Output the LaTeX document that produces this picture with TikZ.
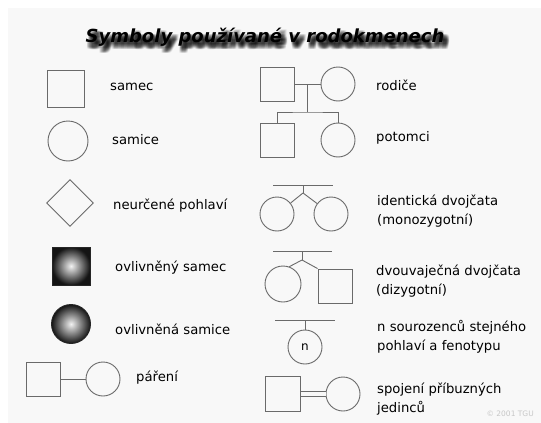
\documentclass[tikz,border=0pt]{standalone}
\usepackage{fontspec}
\setmainfont{DejaVu Sans}
\usetikzlibrary{positioning,shapes.geometric,calc}

\definecolor{paper}{HTML}{F8F8F8}
\definecolor{outline}{HTML}{6A6A6A}

\tikzset{
	sym/.style={draw=outline, line width=0.9pt, inner sep=0pt},
	male/.style={sym, rectangle, minimum size=34pt},
	female/.style={sym, circle, minimum size=34pt},
	unknown/.style={sym, diamond, minimum size=47pt},
	affected/.style={draw=black!85, shading=radial, inner color=black!5, outer color=black!92},
	link/.style={draw=outline, line width=0.9pt},
	txt/.style={anchor=west, inner sep=0pt, align=left, font=\fontsize{13.2}{19.5}\selectfont},
	heading/.style={inner sep=0pt, font=\fontsize{18}{20}\bfseries\itshape\selectfont}
}

\begin{document}
\begin{tikzpicture}[x=1pt, y=-1pt]
	% paper
	\fill[white] (0,0) rectangle (541,423);
	\fill[paper] (8,8) rectangle (541,423);
	\useasboundingbox (0,0) rectangle (541,423);

	% heading with a soft shadow
	\foreach \dx in {1,...,6}
		\foreach \dy in {2,...,7}
			\node[heading, text=black, opacity=0.065] (shadow\dx\dy) at (265+\dx,37+\dy) {Symboly používané v rodokmenech};
	\node[heading] (title) at (265,37) {Symboly používané v rodokmenech};

	% left column
	\node[male, minimum size=37pt] (samec) at (66,89) {};
	\node[txt] (samecT) at (110,87) {samec};

	\node[female, minimum size=40pt] (samice) at (68,141) {};
	\node[txt] (samiceT) at (112,140) {samice};

	\node[unknown] (neurc) at (70,203) {};
	\node[txt] (neurcT) at (113,206) {neurčené pohlaví};

	\node[male, affected, minimum size=38pt] (ovsamec) at (71,266) {};
	\node[txt] (ovsamecT) at (115,268) {ovlivněný samec};

	\node[female, affected, minimum size=39pt] (ovsamice) at (71,324) {};
	\node[txt] (ovsamiceT) at (115,329) {ovlivněná samice};

	\node[male] (pareniM) at (43,379) {};
	\node[female] (pareniF) at (103,379) {};
	\draw[link] (pareniM) -- (pareniF);
	\node[txt] (pareniT) at (136,378) {páření};

	% right column: parents and offspring
	\node[male] (otec) at (277,84) {};
	\node[female] (matka) at (338,84) {};
	\draw[link] (otec) -- (matka);
	\coordinate (mate) at ($(otec.east)!0.5!(matka.west)$);
	\coordinate (sibs) at ($(mate)+(0,28)$);
	\draw[link] (mate) -- (sibs);
	\node[male] (syn) at (277,140) {};
	\node[female] (dcera) at (338,140) {};
	\draw[link] (syn.north) |- (sibs) -| (dcera.north);
	\node[txt] (rodiceT) at (376,85) {rodiče};
	\node[txt] (potomciT) at (376,138) {potomci};

	% identical twins
	\coordinate (mzbar) at (303,185);
	\coordinate (mzbarL) at (273,185);
	\coordinate (mzbarR) at (333,185);
	\coordinate (mzapex) at (303,193);
	\node[female] (mz1) at (277,214) {};
	\node[female] (mz2) at (331,214) {};
	\draw[link] (mzbarL) -- (mzbarR);
	\draw[link] (mzbar) -- (mzapex);
	\draw[link] (mzapex) -- (mz1);
	\draw[link] (mzapex) -- (mz2);
	\node[txt] (mzT) at (377,211) {identická dvojčata\\(monozygotní)};

	% fraternal twins
	\coordinate (dzbar) at (302,251);
	\coordinate (dzbarL) at (273,251);
	\coordinate (dzbarR) at (332,251);
	\coordinate (dzapex) at (302,260);
	\node[female, minimum size=36pt] (dz1) at (283,284) {};
	\node[male] (dz2) at (335,286) {};
	\draw[link] (dzbarL) -- (dzbarR);
	\draw[link] (dzbar) -- (dzapex);
	\draw[link] (dzapex) -- (dz1.70);
	\draw[link] (dzapex) -- (dz2.north west);
	\node[txt] (dzT) at (376,281) {dvouvaječná dvojčata\\(dizygotní)};

	% n siblings
	\coordinate (nbar) at (305,320);
	\coordinate (nbarL) at (275,320);
	\coordinate (nbarR) at (335,320);
	\node[female, font=\fontsize{12}{14}\selectfont] (nsour) at (305,347) {n};
	\draw[link] (nbarL) -- (nbarR);
	\draw[link] (nbar) -- (nsour);
	\node[txt] (nsourT) at (377,337) {n sourozenců stejného\\pohlaví a fenotypu};

	% consanguineous mating
	\node[male, minimum size=35pt] (pribM) at (283,394) {};
	\node[female] (pribF) at (343,394) {};
	\draw[link, double=paper, double distance=4.5pt] (pribM) -- (pribF);
	\node[txt] (pribT) at (377,399) {spojení příbuzných\\jedinců};

	\node[anchor=east, inner sep=0pt, text=black!22, font=\fontsize{7.5}{9}\selectfont] (tgu) at (534,414) {© 2001 TGU};
\end{tikzpicture}
\end{document}
